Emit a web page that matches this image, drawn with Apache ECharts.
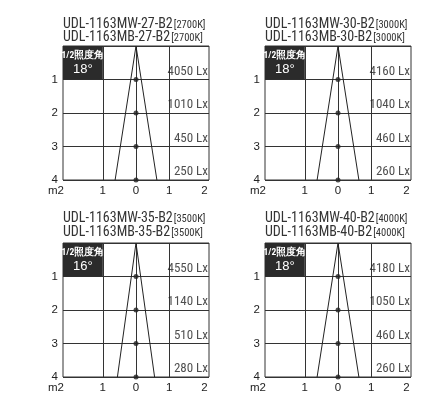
<!DOCTYPE html>
<html>
<head>
<meta charset="utf-8">
<script src="https://cdn.jsdelivr.net/npm/echarts@6/dist/echarts.min.js"></script>
<style>
html,body{margin:0;padding:0;background:#fff;}
#c{width:426px;height:395px;}
</style>
</head>
<body>
<div id="c"></div>
<script>
// ---- data ----
const modelsMW = ['UDL-1163MW-27-B2', 'UDL-1163MW-30-B2', 'UDL-1163MW-35-B2', 'UDL-1163MW-40-B2'];
const modelsMB = ['UDL-1163MB-27-B2', 'UDL-1163MB-30-B2', 'UDL-1163MB-35-B2', 'UDL-1163MB-40-B2'];
const colorTemps = ['2700K', '3000K', '3500K', '4000K'];
const beamLabel = '1/2照度角';
const beamAngles = ['18°', '18°', '16°', '18°'];
const beamHalfWidthAt4m = [0.63, 0.63, 0.56, 0.63];
const depths = [1, 2, 3, 4];
const luxValues = [
  [4050, 1010, 450, 250],
  [4160, 1040, 460, 260],
  [4550, 1140, 510, 280],
  [4180, 1050, 460, 260]
];
const xTickValues = [-2.2, -1, 0, 1, 2.2];
const xTickLabels = ['m2', '1', '0', '1', '2'];
const xGridValues = [-1, 0, 1];

// ---- layout ----
const X_MIN = -2.2, X_MAX = 2.2, Y_MAX = 4;
const lefts = [63, 265, 63, 265];
const tops = [46, 46, 243, 243];
const GW = 146, GH = 134;
const titleTops = [17.5, 17.5, 212, 212];
const INK = '#222';
const NARROW = "'Roboto Condensed', 'Liberation Sans', sans-serif";
const REG = "'Liberation Sans', Arial, sans-serif";

const grids = [], xAxes = [], yAxes = [], series = [], titles = [];
for (let i = 0; i < 4; i++) {
  grids.push({
    left: lefts[i], top: tops[i], width: GW, height: GH,
    show: true, borderColor: '#333', borderWidth: 1, backgroundColor: 'transparent'
  });
  xAxes.push({
    gridIndex: i, type: 'value', min: X_MIN, max: X_MAX,
    axisLine: { show: false },
    axisTick: { show: false, customValues: xGridValues },
    splitLine: { show: true, lineStyle: { color: '#333', width: 1 } },
    axisLabel: {
      customValues: xTickValues,
      margin: 5,
      fontFamily: REG, fontSize: 11.5, color: INK,
      formatter: function (v) {
        const k = xTickValues.indexOf(v);
        const t = k >= 0 ? xTickLabels[k] : '';
        if (k === 0) return '{l|' + t + '}';
        if (k === xTickValues.length - 1) return '{r|' + t + '}';
        return t;
      },
      rich: {
        l: { fontFamily: REG, fontSize: 11.5, color: INK, padding: [0, 14, 0, 0] },
        r: { fontFamily: REG, fontSize: 11.5, color: INK, padding: [0, 9, 0, 0] }
      }
    }
  });
  yAxes.push({
    gridIndex: i, type: 'value', min: 0, max: Y_MAX, interval: 1, inverse: true,
    axisLine: { show: false }, axisTick: { show: false },
    splitLine: { show: true, lineStyle: { color: '#333', width: 1 } },
    axisLabel: {
      margin: 5, fontFamily: REG, fontSize: 11.5, color: INK,
      formatter: v => (v === 0 ? '' : String(v))
    }
  });
  titles.push({
    left: lefts[i], top: titleTops[i], padding: 0,
    text: '{m|' + modelsMW[i] + '}{k|[' + colorTemps[i] + ']}\n{m|' + modelsMB[i] + '}{k|[' + colorTemps[i] + ']}',
    textStyle: {
      fontWeight: 'normal',
      rich: {
        m: { fontFamily: NARROW, fontSize: 14, fontWeight: 'normal', color: '#333', lineHeight: 13.5 },
        k: { fontFamily: NARROW, fontSize: 10.5, fontWeight: 'normal', color: '#333', lineHeight: 13.5, padding: [2, 0, 0, 1] }
      }
    }
  });
  const hw = beamHalfWidthAt4m[i];
  series.push({
    type: 'line', xAxisIndex: i, yAxisIndex: i,
    data: [[-hw, Y_MAX], [0, 0], [hw, Y_MAX]],
    symbol: 'none', silent: true, animation: false,
    lineStyle: { color: INK, width: 1 },
    markArea: {
      silent: true,
      itemStyle: { color: '#2b2b2b' },
      label: {
        show: true, position: 'inside',
        formatter: '{a|' + beamLabel + '}\n{b|' + beamAngles[i] + '}',
        rich: {
          a: { fontFamily: NARROW, fontSize: 9.5, fontWeight: 'bold', color: '#fff', lineHeight: 14 },
          b: { fontFamily: REG, fontSize: 13, color: '#fff', lineHeight: 14 }
        }
      },
      data: [[{ coord: [X_MIN, 0] }, { coord: [-1, 1] }]]
    }
  });
  series.push({
    type: 'scatter', xAxisIndex: i, yAxisIndex: i, animation: false,
    data: depths.map(d => [0, d]),
    symbolSize: 5, itemStyle: { color: INK }
  });
  series.push({
    type: 'scatter', xAxisIndex: i, yAxisIndex: i, animation: false,
    data: depths.map((d, j) => [X_MAX, d, luxValues[i][j]]),
    symbolSize: 0,
    label: {
      show: true, position: 'left', distance: 1, offset: [0, -8],
      fontFamily: NARROW, fontSize: 13, color: INK,
      formatter: p => p.value[2] + ' Lx'
    }
  });
}

const chart = echarts.init(document.getElementById('c'), null, { renderer: 'canvas' });
chart.setOption({
  animation: false,
  backgroundColor: '#fff',
  title: titles,
  grid: grids,
  xAxis: xAxes,
  yAxis: yAxes,
  series: series
});
</script>
</body>
</html>
